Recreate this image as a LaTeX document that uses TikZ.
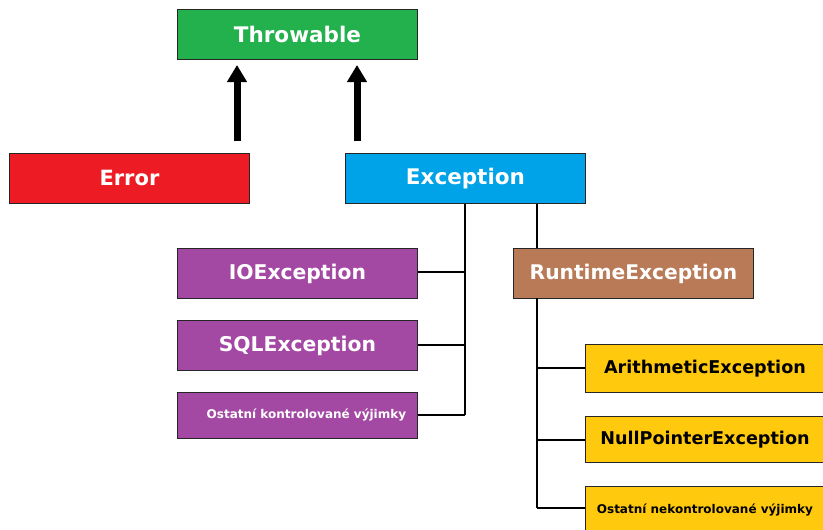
\documentclass[tikz,border=0pt]{standalone}
\usepackage{fontspec}
\setmainfont{DejaVu Sans}
\usetikzlibrary{arrows.meta}
\definecolor{cgreen}{RGB}{34,177,76}
\definecolor{cred}{RGB}{237,28,36}
\definecolor{cblue}{RGB}{0,162,232}
\definecolor{cpurple}{RGB}{163,73,164}
\definecolor{cbrown}{RGB}{185,122,87}
\definecolor{cyellow}{RGB}{255,201,14}
\tikzset{
  box/.style={draw=black!85, line width=0.9pt, minimum width=240pt, minimum height=50pt, inner sep=0pt, font=\bfseries\fontsize{21}{24}\selectfont, text=white, anchor=north west},
  smallbox/.style={box, font=\bfseries\fontsize{12}{14}\selectfont},
  ybox/.style={box, fill=cyellow, text=black, font=\bfseries\fontsize{17.6}{20}\selectfont, minimum width=239pt},
  conn/.style={line width=2.5pt},
  inh/.style={line width=7pt, -{Triangle[width=19pt,length=17pt]}},
}
\begin{document}
\begin{tikzpicture}[x=1pt,y=-1pt]
\useasboundingbox (0,0) rectangle (823,530);
\node[box, fill=cgreen, font=\bfseries\fontsize{21.5}{24}\selectfont] (thr) at (177,9) {Throwable};
\node[box, fill=cred] (err) at (9,153) {Error};
\node[box, fill=cblue, font=\bfseries\fontsize{21.5}{24}\selectfont] (exc) at (345,153) {Exception};
\node[box, fill=cpurple, font=\bfseries\fontsize{20.3}{24}\selectfont] (io) at (177,248) {IOException};
\node[box, fill=cpurple, font=\bfseries\fontsize{20.3}{24}\selectfont] (sql) at (177,320) {SQLException};
\node[smallbox, fill=cpurple, minimum height=46pt] (ok) at (177,392) {\hspace*{18pt}Ostatní kontrolované výjimky};
\node[box, fill=cbrown, font=\bfseries\fontsize{20.2}{24}\selectfont] (rt) at (513,248) {RuntimeException};
\node[ybox, minimum height=48pt] (ar) at (585,344) {ArithmeticException};
\node[ybox, minimum height=46pt] (np) at (585,416) {NullPointerException};
\node[smallbox, fill=cyellow, text=black, minimum width=239pt, minimum height=48pt] (on) at (585,486) {Ostatní nekontrolované výjimky};
% inheritance arrows
\coordinate (a1) at (237,141);
\coordinate (a2) at (357,141);
\draw[inh] (a1) -- (a1 |- 0,65);
\draw[inh] (a2) -- (a2 |- 0,65);
% checked exceptions
\coordinate (e1) at (465,204);
\coordinate (e2) at (465,415);
\draw[conn] (e1) -- (e2);
\draw[conn] (io.east |- 0,272) -- (465,272);
\draw[conn] (sql.east |- 0,345) -- (465,345);
\draw[conn] (ok.east |- 0,415) -- (e2);
% runtime
\draw[conn] (537,204) -- (537,248);
\coordinate (r1) at (537,298);
\coordinate (r2) at (537,508);
\draw[conn] (r1) -- (r2);
\draw[conn] (537,368) -- (ar.west |- 0,368);
\draw[conn] (537,440) -- (np.west |- 0,440);
\draw[conn] (r2) -- (on.west |- 0,508);
\end{tikzpicture}
\end{document}
